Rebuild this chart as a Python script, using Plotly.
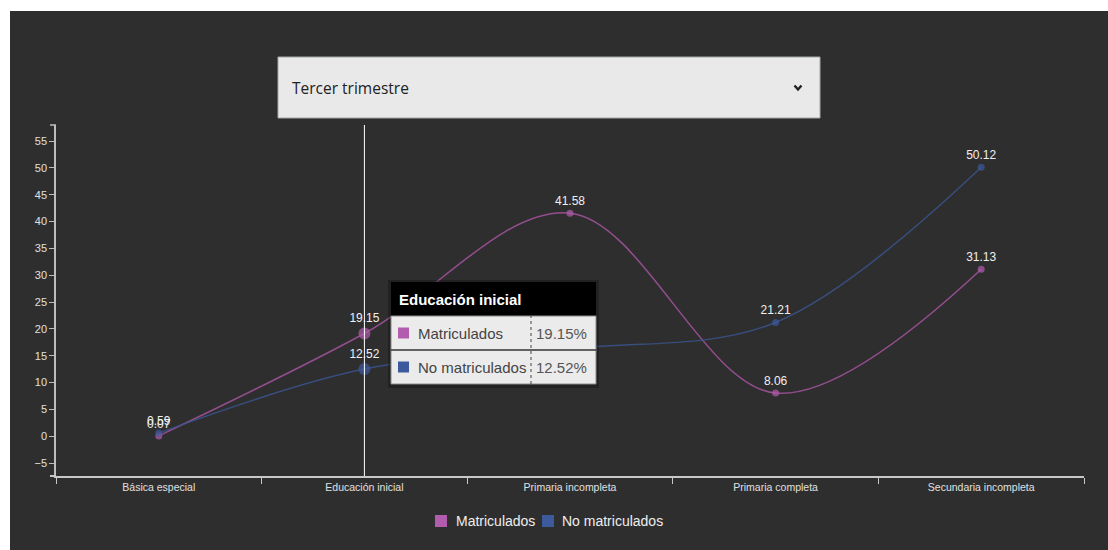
import plotly.graph_objects as go

# ---- data -------------------------------------------------------------
categorias = ["Básica especial", "Educación inicial", "Primaria incompleta",
              "Primaria completa", "Secundaria incompleta"]
matriculados = [0.07, 19.15, 41.58, 8.06, 31.13]
no_matriculados = [0.59, 12.52, 16.30, 21.21, 50.12]
series_nombres = ["Matriculados", "No matriculados"]
periodo = "Tercer trimestre"
categoria_activa = "Educación inicial"
y_ticks = list(range(-5, 60, 5))

# ---- styling ----------------------------------------------------------
FONT = "Arial, 'Liberation Sans', sans-serif"
PINK, PINK_LINE = "#b15cad", "rgba(166,84,160,0.85)"
BLUE, BLUE_LINE = "#3d5a9c", "rgba(58,84,140,0.85)"
BG = "#2e2e2e"
W, H = 1108, 550
L, R, T, B = 56, 1084, 125, 476          # plot area in pixels
Y_MIN, Y_MAX = -7.4, 58.0
TIP = (391, 596, 282, 384)                # tooltip box: left, right, top, bottom


def px(x):
    return (x - L) / (R - L)


def py(y):
    return (B - y) / (B - T)


def bajo_tooltip(i, v):
    """True when a point's label would sit under the tooltip box."""
    xp = L + (i + 0.5) * (R - L) / len(categorias)
    yp = B - (v - Y_MIN) / (Y_MAX - Y_MIN) * (B - T)
    return TIP[0] <= xp <= TIP[1] and TIP[2] <= yp - 12 <= TIP[3]


idx_activo = categorias.index(categoria_activa)
tamanos = [12 if c == categoria_activa else 7 for c in categorias]

fig = go.Figure()
for nombre, valores, c_mark, c_line in [
    (series_nombres[0], matriculados, PINK, PINK_LINE),
    (series_nombres[1], no_matriculados, BLUE, BLUE_LINE),
]:
    etiquetas = ["" if bajo_tooltip(i, v) else f"{v:.2f}"
                 for i, v in enumerate(valores)]
    fig.add_trace(go.Scatter(
        x=categorias, y=valores, name=nombre,
        mode="lines+markers+text",
        line=dict(color=c_line, width=1.5, shape="spline", smoothing=1.0),
        marker=dict(color=c_mark, size=tamanos, line=dict(width=0)),
        text=etiquetas,
        textposition="top center",
        textfont=dict(family=FONT, size=12, color="#f0f0f0"),
        showlegend=False, hoverinfo="skip",
    ))

shapes = []
# dark panel behind the whole chart
shapes.append(dict(type="rect", xref="paper", yref="paper", layer="below",
                   x0=px(10), x1=px(W), y0=py(H), y1=py(11),
                   fillcolor=BG, line=dict(width=0)))
# period selector box
shapes.append(dict(type="rect", xref="paper", yref="paper",
                   x0=px(278), x1=px(820), y0=py(118), y1=py(57),
                   fillcolor="#e9e9e9", line=dict(color="#a4a9a9", width=1)))
shapes.append(dict(type="path", xref="paper", yref="paper",
                   path=f"M {px(794.5)} {py(85.5)} L {px(798)} {py(89.5)} L {px(801.5)} {py(85.5)}",
                   line=dict(color="#222222", width=2.4)))
# outer ticks of the axis domains
shapes.append(dict(type="line", xref="paper", yref="paper",
                   x0=px(50), x1=px(56), y0=py(125), y1=py(125),
                   line=dict(color="#bdbdbd", width=1.5)))
shapes.append(dict(type="line", xref="paper", yref="paper",
                   x0=px(50), x1=px(56), y0=py(476), y1=py(476),
                   line=dict(color="#c8c8c8", width=2)))
# focus line on the active category
shapes.append(dict(type="line", xref="x", yref="paper",
                   x0=idx_activo, x1=idx_activo, y0=0, y1=1,
                   line=dict(color="#ffffff", width=1)))

# tooltip for the active category
tx0, tx1, ty0, ty1 = TIP
shapes.append(dict(type="rect", xref="paper", yref="paper",
                   x0=px(tx0 - 3), x1=px(tx1 + 3), y0=py(ty1 + 4), y1=py(ty0 - 2),
                   fillcolor="rgba(0,0,0,0.25)", line=dict(width=0)))
shapes.append(dict(type="rect", xref="paper", yref="paper",
                   x0=px(tx0), x1=px(tx1), y0=py(316), y1=py(ty0),
                   fillcolor="#000000", line=dict(width=0)))
shapes.append(dict(type="rect", xref="paper", yref="paper",
                   x0=px(tx0), x1=px(tx1), y0=py(ty1), y1=py(316),
                   fillcolor="#ebebeb", line=dict(color="#8a8a8a", width=1)))
shapes.append(dict(type="line", xref="paper", yref="paper",
                   x0=px(tx0), x1=px(tx1), y0=py(350), y1=py(350),
                   line=dict(color="#333333", width=1.5)))
shapes.append(dict(type="line", xref="paper", yref="paper",
                   x0=px(531), x1=px(531), y0=py(ty1), y1=py(316),
                   line=dict(color="#444444", width=1, dash="dot")))

annotations = [
    dict(xref="paper", yref="paper", x=px(290), y=py(88), xanchor="left",
         yanchor="middle", text=periodo, showarrow=False,
         font=dict(family="'Open Sans', 'Noto Sans', sans-serif", size=15.5,
                   color="#222222")),
    dict(xref="paper", yref="paper", x=px(397), y=py(299), xanchor="left",
         yanchor="middle", text=f"<b>{categoria_activa}</b>", showarrow=False,
         font=dict(family=FONT, size=15, color="#ffffff")),
]
filas = [(series_nombres[0], matriculados[idx_activo], PINK, 333),
         (series_nombres[1], no_matriculados[idx_activo], BLUE, 367)]
for nombre, valor, color, yc in filas:
    shapes.append(dict(type="rect", xref="paper", yref="paper",
                       x0=px(398), x1=px(409), y0=py(yc + 5.5), y1=py(yc - 5.5),
                       fillcolor=color, line=dict(width=0)))
    annotations.append(dict(xref="paper", yref="paper", x=px(416), y=py(yc),
                            xanchor="left", yanchor="middle", text=nombre,
                            showarrow=False,
                            font=dict(family=FONT, size=15, color="#444444")))
    annotations.append(dict(xref="paper", yref="paper", x=px(589), y=py(yc),
                            xanchor="right", yanchor="middle",
                            text=f"{valor:.2f}%", showarrow=False,
                            font=dict(family=FONT, size=15, color="#555555")))

# legend drawn under the x axis
leyenda = [(series_nombres[0], PINK, 435, 454), (series_nombres[1], BLUE, 542, 560)]
for nombre, color, sx, tx in leyenda:
    shapes.append(dict(type="rect", xref="paper", yref="paper",
                       x0=px(sx), x1=px(sx + 12), y0=py(527), y1=py(515),
                       fillcolor=color, line=dict(width=0)))
    annotations.append(dict(xref="paper", yref="paper", x=px(tx), y=py(521),
                            xanchor="left", yanchor="middle", text=nombre,
                            showarrow=False,
                            font=dict(family=FONT, size=14, color="#eeeeee")))

fig.update_layout(
    width=W, height=H,
    margin=dict(l=L, r=W - R, t=T, b=H - B, pad=0),
    paper_bgcolor="#ffffff", plot_bgcolor="rgba(0,0,0,0)",
    font=dict(family=FONT, color="#dddddd"),
    hovermode=False,
    shapes=shapes, annotations=annotations,
    xaxis=dict(type="category", categoryorder="array", categoryarray=categorias,
               range=[-0.5, len(categorias) - 0.5], tickson="boundaries",
               ticks="outside", ticklen=6, tickcolor="#c8c8c8", tickwidth=1,
               showline=True, linecolor="#c8c8c8", linewidth=2,
               showgrid=False, zeroline=False,
               tickfont=dict(family=FONT, size=10.5, color="#e0e0e0")),
    yaxis=dict(range=[Y_MIN, Y_MAX], tickvals=y_ticks,
               ticks="outside", ticklen=5, tickcolor="#bdbdbd", tickwidth=1,
               showline=True, linecolor="#bdbdbd", linewidth=1.5,
               showgrid=False, zeroline=False,
               tickfont=dict(family=FONT, size=11, color="#e0e0e0")),
)

fig.write_html("out.html", config={"displayModeBar": False})
